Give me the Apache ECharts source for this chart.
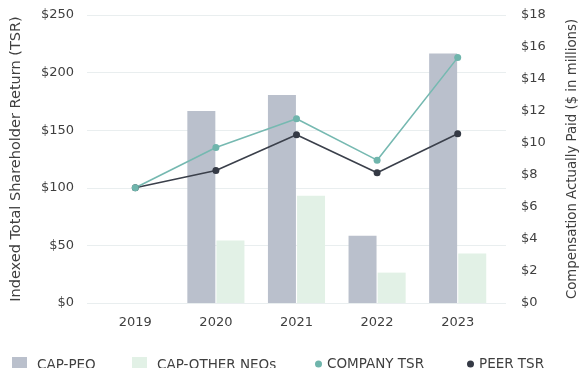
<!DOCTYPE html>
<html><head><meta charset="utf-8">
<script src="https://cdn.jsdelivr.net/npm/echarts@6/dist/echarts.min.js"></script>
<style>html,body{margin:0;padding:0;background:#fff}#c{width:587px;height:368px}</style>
</head><body><div id="c"></div>
<script>
var years = ['2019', '2020', '2021', '2022', '2023'];
var capPeo = [null, 12.0, 13.0, 4.2, 15.6];
var capOtherNeos = [null, 3.9, 6.7, 1.9, 3.1];
var companyTsr = [100, 135, 160, 124, 213];
var peerTsr = [100, 115, 146, 113, 147];
var leftTicks = [0, 250, 50];
var rightTicks = [0, 18, 2];

var FONT = 'DejaVu Sans';
var TXT = '#3f3f3f';
var chart = echarts.init(document.getElementById('c'));
function legendItem(name, left, w, h, icon, pad) {
  return { data: [name], left: left, top: 352, itemWidth: w, itemHeight: h, icon: icon,
    itemGap: 0, textStyle: { fontFamily: FONT, fontSize: 13.5, color: TXT, padding: [0, 0, 0, pad] } };
}
chart.setOption({
  animation: false,
  grid: [
    { left: 87, right: 64, top: 15, bottom: 65 },
    { left: 95, right: 89, top: 15, bottom: 65 }
  ],
  legend: [
    legendItem('CAP-PEO', 7, 15, 17, 'rect', 5),
    legendItem('CAP-OTHER NEOs', 127, 15, 17, 'rect', 5),
    legendItem('COMPANY TSR', 310, 7, 7, 'circle', 0),
    legendItem('PEER TSR', 462, 7, 7, 'circle', 0)
  ],
  xAxis: [
    { gridIndex: 0, type: 'value', min: 0, max: 1, show: false },
    { gridIndex: 1, type: 'category', data: years, axisLine: { show: false }, axisTick: { show: false },
      axisLabel: { margin: 13, fontFamily: FONT, fontSize: 13, color: TXT } }
  ],
  yAxis: [
    { gridIndex: 0, type: 'value', position: 'left', min: leftTicks[0], max: leftTicks[1], interval: leftTicks[2],
      axisLabel: { formatter: '${value}', margin: 13, fontFamily: FONT, fontSize: 13, color: TXT },
      splitLine: { lineStyle: { color: '#e9eeef', width: 1 } },
      axisLine: { show: false }, axisTick: { show: false },
      name: 'Indexed Total Shareholder Return (TSR)', nameLocation: 'middle', nameRotate: 90, nameGap: 63,
      nameTextStyle: { fontFamily: FONT, fontSize: 14.5, color: TXT } },
    { gridIndex: 0, type: 'value', position: 'right', min: rightTicks[0], max: rightTicks[1], interval: rightTicks[2],
      axisLabel: { formatter: '${value}', margin: 15, fontFamily: FONT, fontSize: 13, color: TXT },
      splitLine: { show: false }, axisLine: { show: false }, axisTick: { show: false },
      name: 'Compensation Actually Paid ($ in millions)', nameLocation: 'middle', nameRotate: 90, nameGap: 60,
      nameTextStyle: { fontFamily: FONT, fontSize: 13.3, color: TXT } },
    { gridIndex: 1, type: 'value', min: leftTicks[0], max: leftTicks[1], show: false },
    { gridIndex: 1, type: 'value', min: rightTicks[0], max: rightTicks[1], show: false, position: 'right' }
  ],
  series: [
    { name: 'CAP-PEO', type: 'bar', xAxisIndex: 1, yAxisIndex: 3, data: capPeo, barWidth: 28, barGap: '4%',
      itemStyle: { color: '#bac0cc' } },
    { name: 'CAP-OTHER NEOs', type: 'bar', xAxisIndex: 1, yAxisIndex: 3, data: capOtherNeos, barWidth: 28, barGap: '4%',
      itemStyle: { color: '#e2f1e6' } },
    { name: 'PEER TSR', type: 'line', xAxisIndex: 1, yAxisIndex: 2, data: peerTsr, symbol: 'circle', symbolSize: 7,
      lineStyle: { color: '#3b404b', width: 1.6 }, itemStyle: { color: '#353a45' } },
    { name: 'COMPANY TSR', type: 'line', xAxisIndex: 1, yAxisIndex: 2, data: companyTsr, symbol: 'circle', symbolSize: 7,
      lineStyle: { color: '#76b9b1', width: 1.6 }, itemStyle: { color: '#6fb5ac' } }
  ]
});
</script></body></html>
